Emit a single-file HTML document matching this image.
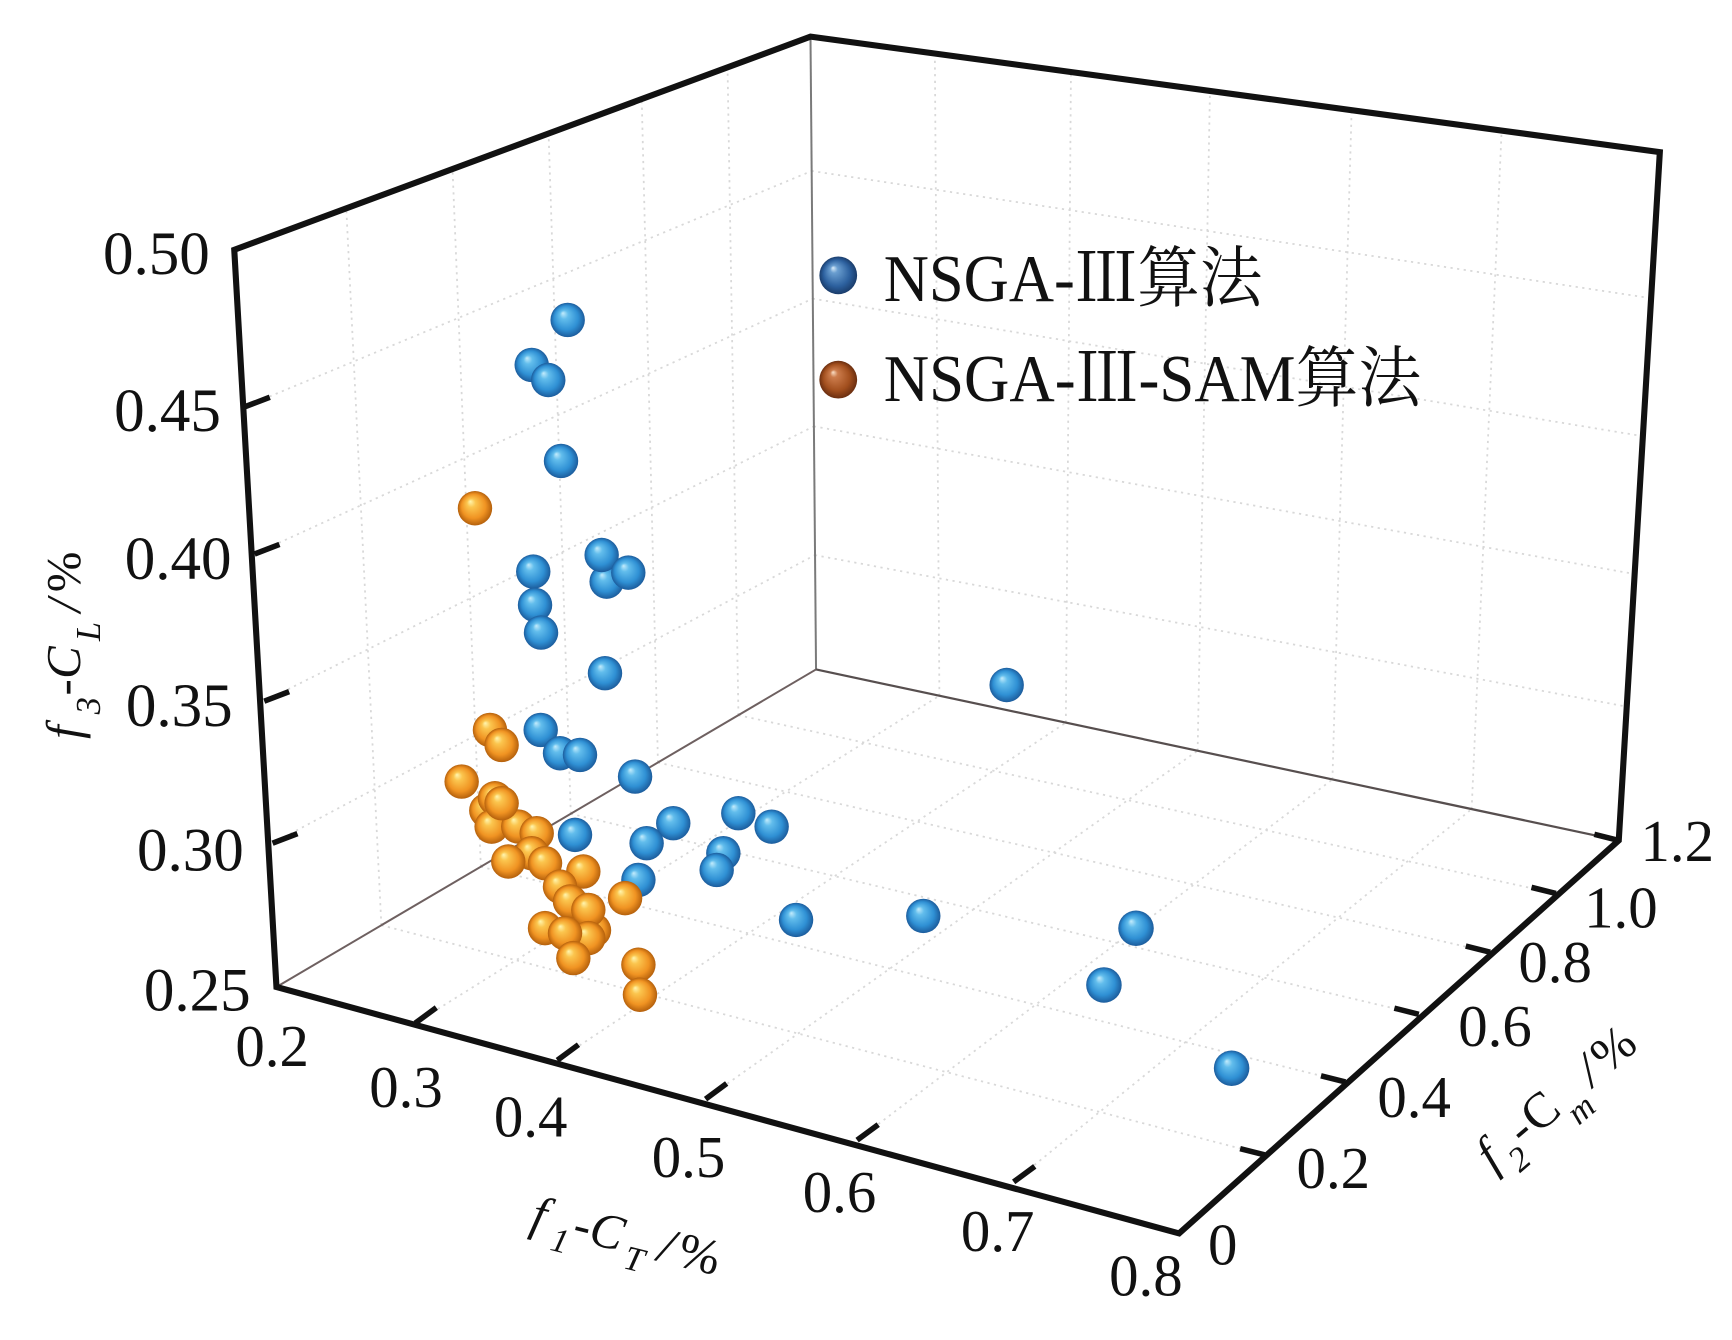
<!DOCTYPE html>
<html>
<head>
<meta charset="utf-8">
<style>
  html,body{margin:0;padding:0;background:#fff;}
  svg{display:block;}
  text{font-family:"Liberation Serif","Noto Serif CJK SC",serif;fill:#111;}
  .it{font-style:italic;}
</style>
</head>
<body>
<svg width="1732" height="1340" viewBox="0 0 1560 1207" preserveAspectRatio="none" xmlns="http://www.w3.org/2000/svg">
  <defs>
    <radialGradient id="gb" cx="0.5" cy="0.5" r="0.5" fx="0.36" fy="0.3">
      <stop offset="0" stop-color="#c4ecfc"/>
      <stop offset="0.25" stop-color="#62bdec"/>
      <stop offset="0.7" stop-color="#2f90d4"/>
      <stop offset="1" stop-color="#1c5c9c"/>
    </radialGradient>
    <radialGradient id="go" cx="0.5" cy="0.5" r="0.5" fx="0.36" fy="0.3">
      <stop offset="0" stop-color="#fff6b0"/>
      <stop offset="0.25" stop-color="#fbc54e"/>
      <stop offset="0.7" stop-color="#f09322"/>
      <stop offset="1" stop-color="#b4600c"/>
    </radialGradient>
    <radialGradient id="glb" cx="0.5" cy="0.5" r="0.5" fx="0.36" fy="0.3">
      <stop offset="0" stop-color="#dceefa"/>
      <stop offset="0.2" stop-color="#6a9ed0"/>
      <stop offset="0.7" stop-color="#2c609e"/>
      <stop offset="1" stop-color="#1a3c6a"/>
    </radialGradient>
    <radialGradient id="glo" cx="0.5" cy="0.5" r="0.5" fx="0.36" fy="0.3">
      <stop offset="0" stop-color="#fae0c8"/>
      <stop offset="0.2" stop-color="#cc7c4c"/>
      <stop offset="0.7" stop-color="#a24f1e"/>
      <stop offset="1" stop-color="#6a2e10"/>
    </radialGradient>
  </defs>

  <!-- gridlines -->
  <g stroke="#d8d8d8" stroke-width="1.6" stroke-dasharray="2 4" fill="none">
    <line x1="220.6" y1="366.4" x2="731" y2="154"/>
    <line x1="229.3" y1="499" x2="732" y2="269"/>
    <line x1="238" y1="631.6" x2="733" y2="384"/>
    <line x1="245.5" y1="759.5" x2="734" y2="500"/>
    <line x1="343.5" y1="833.4" x2="311.9" y2="187.7"/>
    <line x1="433.1" y1="780.7" x2="407.6" y2="152.3"/>
    <line x1="514.1" y1="733" x2="494.1" y2="120.3"/>
    <line x1="592.6" y1="686.8" x2="578" y2="89.2"/>
    <line x1="665.1" y1="644.2" x2="655.3" y2="60.6"/>
    <line x1="731" y1="154" x2="1487.1" y2="268.6"/>
    <line x1="732" y1="269" x2="1479.7" y2="392.9"/>
    <line x1="733" y1="384" x2="1472.3" y2="517.1"/>
    <line x1="734" y1="500" x2="1465.2" y2="636.5"/>
    <line x1="846.1" y1="626.7" x2="842" y2="48.2"/>
    <line x1="960" y1="650.9" x2="964.6" y2="64.9"/>
    <line x1="1078.7" y1="676.2" x2="1089.8" y2="81.9"/>
    <line x1="1200.1" y1="702.1" x2="1217.4" y2="99.3"/>
    <line x1="1325.5" y1="728.8" x2="1352.5" y2="117.6"/>
    <line x1="374" y1="921.6" x2="846.1" y2="626.7"/>
    <line x1="502" y1="955" x2="960" y2="650.9"/>
    <line x1="635.5" y1="990" x2="1078.7" y2="676.2"/>
    <line x1="772" y1="1027" x2="1200.1" y2="702.1"/>
    <line x1="913" y1="1064.6" x2="1325.5" y2="728.8"/>
    <line x1="343.5" y1="833.4" x2="1139" y2="1040.2"/>
    <line x1="433.1" y1="780.7" x2="1211.8" y2="974.5"/>
    <line x1="514.1" y1="733" x2="1277.9" y2="913.6"/>
    <line x1="592.6" y1="686.8" x2="1342.2" y2="857.7"/>
    <line x1="665.1" y1="644.2" x2="1401.4" y2="804.8"/>
  </g>

  <!-- thin inner edges -->
  <line x1="730" y1="33" x2="735" y2="603" stroke="#7a7a7a" stroke-width="1.8"/>
  <line x1="735" y1="603" x2="249" y2="889" stroke="#6e6060" stroke-width="1.8"/>
  <line x1="735" y1="603" x2="1458" y2="757" stroke="#574f4f" stroke-width="2"/>

  <!-- thick box outline -->
  <path d="M211,225 L249,889 L1062,1111 L1458,757 L1495,137 L730,33 Z" fill="none" stroke="#111" stroke-width="5.5" stroke-linejoin="miter"/>

  <!-- ticks -->
  <g stroke="#111" stroke-width="5" stroke-linecap="butt">
    <line x1="220.6" y1="366.4" x2="243" y2="357.8"/>
    <line x1="229.3" y1="499" x2="251.7" y2="490.4"/>
    <line x1="238" y1="631.6" x2="260.4" y2="623"/>
    <line x1="245.5" y1="759.5" x2="267.9" y2="750.9"/>

    <line x1="374" y1="921.6" x2="393" y2="907.6"/>
    <line x1="502" y1="955" x2="521" y2="941"/>
    <line x1="635.5" y1="990" x2="654.5" y2="976"/>
    <line x1="772" y1="1027" x2="791" y2="1013"/>
    <line x1="913" y1="1064.6" x2="932" y2="1050.6"/>

    <line x1="1139" y1="1040.2" x2="1117" y2="1034.7"/>
    <line x1="1211.8" y1="974.5" x2="1189.8" y2="969"/>
    <line x1="1277.9" y1="913.6" x2="1255.9" y2="908.1"/>
    <line x1="1342.2" y1="857.7" x2="1320.2" y2="852.2"/>
    <line x1="1401.4" y1="804.8" x2="1379.4" y2="799.3"/>
    <line x1="1458" y1="757" x2="1436" y2="751.5"/>
  </g>

  <!-- blue spheres -->
  <g fill="url(#gb)">
    <circle cx="906.7" cy="617" r="15.5"/>
    <circle cx="511.3" cy="288.2" r="15.5"/>
    <circle cx="478.9" cy="328.7" r="15.5"/>
    <circle cx="493.8" cy="342.3" r="15.5"/>
    <circle cx="505.3" cy="415.2" r="15.5"/>
    <circle cx="546.4" cy="523.9" r="15.5"/>
    <circle cx="541.9" cy="499.9" r="15.5"/>
    <circle cx="565.9" cy="515.8" r="15.5"/>
    <circle cx="480.3" cy="514.9" r="15.5"/>
    <circle cx="481.9" cy="544.9" r="15.5"/>
    <circle cx="487.3" cy="569.8" r="15.5"/>
    <circle cx="544.9" cy="606.4" r="15.5"/>
    <circle cx="487" cy="657.5" r="15.5"/>
    <circle cx="504.4" cy="678.5" r="15.5"/>
    <circle cx="522.4" cy="680" r="15.5"/>
    <circle cx="572" cy="699.5" r="15.5"/>
    <circle cx="606.4" cy="741.5" r="15.5"/>
    <circle cx="517.9" cy="752" r="15.5"/>
    <circle cx="582.4" cy="759.5" r="15.5"/>
    <circle cx="575" cy="792.6" r="15.5"/>
    <circle cx="665" cy="732.5" r="15.5"/>
    <circle cx="695" cy="744.6" r="15.5"/>
    <circle cx="651.5" cy="768.5" r="15.5"/>
    <circle cx="645.5" cy="783.6" r="15.5"/>
    <circle cx="717" cy="828.6" r="15.5"/>
    <circle cx="831.6" cy="825" r="15.5"/>
    <circle cx="1023.2" cy="836.1" r="16"/>
    <circle cx="994.3" cy="887.2" r="16"/>
    <circle cx="1109.3" cy="962.2" r="16"/>
  </g>

  <!-- orange spheres -->
  <g fill="url(#go)">
    <circle cx="427.8" cy="457.8" r="15.5"/>
    <circle cx="441.3" cy="657.5" r="15.5"/>
    <circle cx="451.8" cy="671" r="15.5"/>
    <circle cx="415.8" cy="704" r="15.5"/>
    <circle cx="438" cy="730" r="15.5"/>
    <circle cx="445.8" cy="719" r="15.5"/>
    <circle cx="442.8" cy="744.6" r="15.5"/>
    <circle cx="466.8" cy="744.5" r="15.5"/>
    <circle cx="451.8" cy="723.5" r="15.5"/>
    <circle cx="483.4" cy="750.5" r="15.5"/>
    <circle cx="478.9" cy="768.5" r="15.5"/>
    <circle cx="457.8" cy="776" r="15.5"/>
    <circle cx="490.9" cy="777.5" r="15.5"/>
    <circle cx="525.4" cy="785" r="15.5"/>
    <circle cx="504.4" cy="798.6" r="15.5"/>
    <circle cx="563" cy="809" r="15.5"/>
    <circle cx="535" cy="838" r="15.5"/>
    <circle cx="513.4" cy="812" r="15.5"/>
    <circle cx="529.9" cy="819.6" r="15.5"/>
    <circle cx="490.9" cy="836" r="15.5"/>
    <circle cx="529.9" cy="845" r="15.5"/>
    <circle cx="508.9" cy="840.6" r="15.5"/>
    <circle cx="516.4" cy="863" r="15.5"/>
    <circle cx="575" cy="869" r="15.5"/>
    <circle cx="576.4" cy="896" r="15.5"/>
  </g>

  <!-- legend -->
  <circle cx="755" cy="248" r="17" fill="url(#glb)"/>
  <circle cx="755" cy="342" r="17" fill="url(#glo)"/>
  <text x="796" y="271" font-size="60" textLength="341" lengthAdjust="spacingAndGlyphs">NSGA-Ⅲ算法</text>
  <text x="796" y="361" font-size="60" textLength="484" lengthAdjust="spacingAndGlyphs">NSGA-Ⅲ-SAM算法</text>

  <!-- z tick labels -->
  <g font-size="55" text-anchor="end">
    <text x="189" y="247">0.50</text>
    <text x="199" y="388">0.45</text>
    <text x="208.6" y="521.5">0.40</text>
    <text x="209.6" y="654">0.35</text>
    <text x="219.6" y="784">0.30</text>
    <text x="225.8" y="910">0.25</text>
  </g>

  <!-- f1 tick labels -->
  <g font-size="53">
    <text x="212" y="960">0.2</text>
    <text x="332.6" y="997">0.3</text>
    <text x="444.8" y="1023.6">0.4</text>
    <text x="587" y="1060">0.5</text>
    <text x="723" y="1091.6">0.6</text>
    <text x="865.5" y="1126.8">0.7</text>
    <text x="999" y="1166.7">0.8</text>
  </g>

  <!-- f2 tick labels -->
  <g font-size="53">
    <text x="1088" y="1139">0</text>
    <text x="1167.8" y="1070">0.2</text>
    <text x="1240.6" y="1006">0.4</text>
    <text x="1313.4" y="942">0.6</text>
    <text x="1367.6" y="884.4">0.8</text>
    <text x="1426.8" y="835.6">1.0</text>
    <text x="1477.6" y="775.5">1.2</text>
  </g>

  <!-- z title -->
  <g transform="translate(72,669.5) rotate(-90)" font-size="44">
    <text x="4" y="0" class="it">f</text>
    <text x="26" y="18" font-size="31" class="it">3</text>
    <text x="43" y="0">-</text>
    <text x="58" y="0" class="it">C</text>
    <text x="92" y="18" font-size="31" class="it">L</text>
    <text x="118" y="0" class="it">/</text>
    <text x="136" y="0">%</text>
  </g>

  <!-- f1 title -->
  <g transform="translate(472.5,1105.7) rotate(14)" font-size="45">
    <text x="4" y="0" class="it">f</text>
    <text x="26" y="14" font-size="31" class="it">1</text>
    <text x="43" y="0">-</text>
    <text x="58" y="0" class="it">C</text>
    <text x="94" y="14" font-size="31" class="it">T</text>
    <text x="122" y="0" class="it">/</text>
    <text x="140" y="0">%</text>
  </g>

  <!-- f2 title -->
  <g transform="translate(1343.4,1057.6) rotate(-40.5)" font-size="45">
    <text x="2" y="0" class="it">f</text>
    <text x="20" y="16" font-size="31" class="it">2</text>
    <text x="38" y="0">-</text>
    <text x="55" y="0">C</text>
    <text x="88" y="18" font-size="31" class="it">m</text>
    <text x="120" y="0" class="it">/</text>
    <text x="138" y="0">%</text>
  </g>
</svg>
</body>
</html>
